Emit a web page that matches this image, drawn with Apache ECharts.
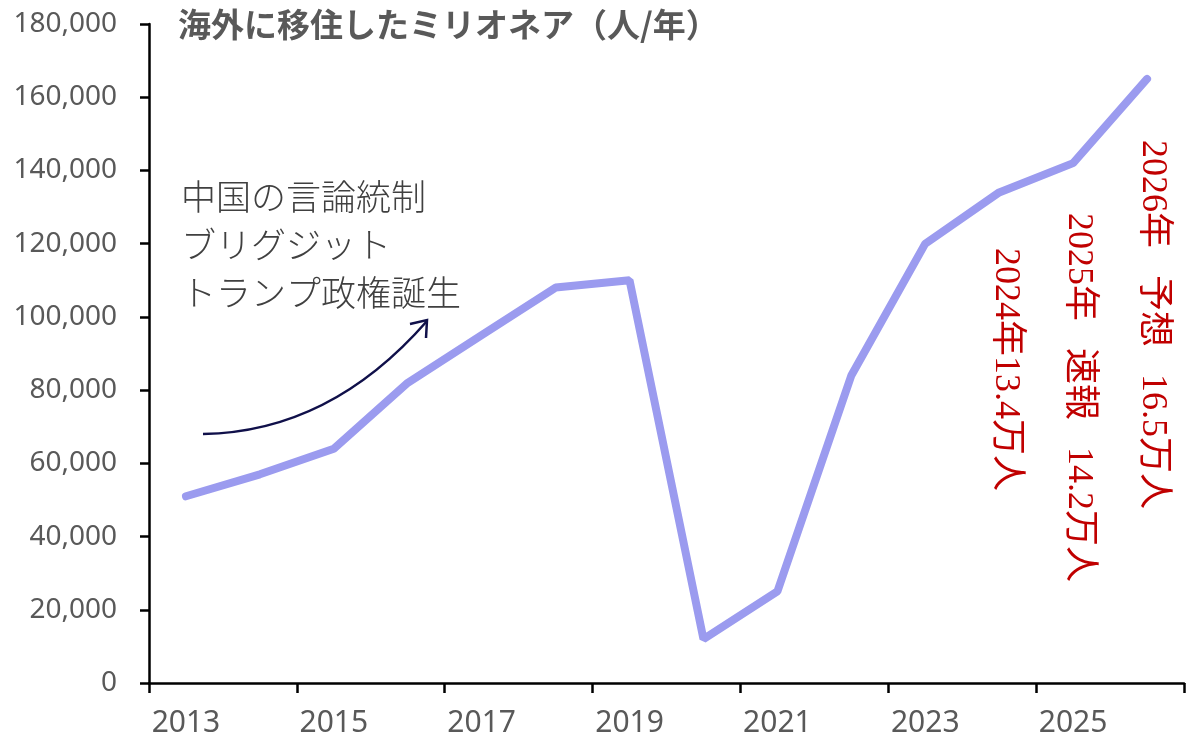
<!DOCTYPE html>
<html>
<head>
<meta charset="utf-8">
<script src="https://cdn.jsdelivr.net/npm/echarts@6/dist/echarts.min.js"></script>
<style>
  html, body { margin: 0; padding: 0; background: #fff; }
  #chart { width: 1200px; height: 741px; }
</style>
</head>
<body>
<div id="chart"></div>
<script>
// データ
var years = ['2013', '2014', '2015', '2016', '2017', '2018', '2019',
             '2020', '2021', '2022', '2023', '2024', '2025', '2026']
var millionaires = [51000, 57000, 64000, 82000, 95000, 108000, 110000,
                    12000, 25000, 84000, 120000, 134000, 142000, 165000]
var titleText = '海外に移住したミリオネア（人/年）'
var noteLines = ['中国の言論統制', 'ブリグジット', 'トランプ政権誕生']
var redNotes = ['2024年13.4万人', '2025年   速報   14.2万人', '2026年   予想   16.5万人']

var axisFont = '"Noto Sans", "Liberation Sans", sans-serif'
var serifFont = '"Liberation Serif", "Noto Sans CJK JP", serif'
var gray = '#595959'
var red = '#C00000'

var chart = echarts.init(document.getElementById('chart'))
var option = {
    animation: false,
    grid: { left: 149, right: 16, top: 24, bottom: 58, containLabel: false },
    xAxis: {
        type: 'category',
        data: years,
        boundaryGap: true,
        axisLine: { lineStyle: { color: '#000', width: 2.5 } },
        axisTick: { show: true, interval: 1, length: 10, lineStyle: { color: '#000', width: 2.5 } },
        axisLabel: { interval: 1, color: gray, fontSize: 30, fontFamily: axisFont, margin: 25 },
        splitLine: { show: false }
    },
    yAxis: {
        type: 'value',
        min: 0,
        max: 180000,
        interval: 20000,
        axisLine: { show: true, lineStyle: { color: '#000', width: 2.5 } },
        axisTick: { show: true, length: 9, lineStyle: { color: '#000', width: 2.5 } },
        axisLabel: {
            color: gray, fontSize: 28, fontFamily: axisFont, margin: 32,
            formatter: function (v) { return v.toLocaleString('en-US') }
        },
        splitLine: { show: false }
    },
    series: [{
        type: 'line',
        data: millionaires,
        symbol: 'none',
        lineStyle: { color: '#9B9BEF', width: 8, cap: 'round' },
        z: 3
    }],
    graphic: [
        {   // タイトル
            type: 'text', left: 178, top: 8,
            style: { text: titleText, fill: gray, font: 'bold 33px "Noto Sans CJK JP", sans-serif' }
        },
        {   // 注釈
            type: 'text', left: 181, top: 177,
            style: {
                text: noteLines.join('\n'), fill: '#404040',
                font: '300 35px ' + serifFont, lineHeight: 48
            }
        },
        {   // 矢印
            type: 'bezierCurve',
            shape: { x1: 203, y1: 434, x2: 427, y2: 321, cpx1: 330, cpy1: 432 },
            style: { stroke: '#10104a', lineWidth: 2.5, fill: null }
        },
        {
            type: 'polyline',
            shape: { points: [[410, 324], [427, 320], [426, 338]] },
            style: { stroke: '#10104a', lineWidth: 2.5, fill: null }
        },
        // 縦書きの赤い注記
        {
            type: 'text', x: 1005, y: 248, rotation: -Math.PI / 2,
            style: { text: redNotes[0], fill: red, font: '36px ' + serifFont, textAlign: 'left', textVerticalAlign: 'middle' }
        },
        {
            type: 'text', x: 1078, y: 213, rotation: -Math.PI / 2,
            style: { text: redNotes[1], fill: red, font: '36px ' + serifFont, textAlign: 'left', textVerticalAlign: 'middle' }
        },
        {
            type: 'text', x: 1152, y: 140, rotation: -Math.PI / 2,
            style: { text: redNotes[2], fill: red, font: '36px ' + serifFont, textAlign: 'left', textVerticalAlign: 'middle' }
        }
    ]
}
chart.setOption(option)
window.addEventListener('resize', function () { chart.resize() })
</script>
</body>
</html>
